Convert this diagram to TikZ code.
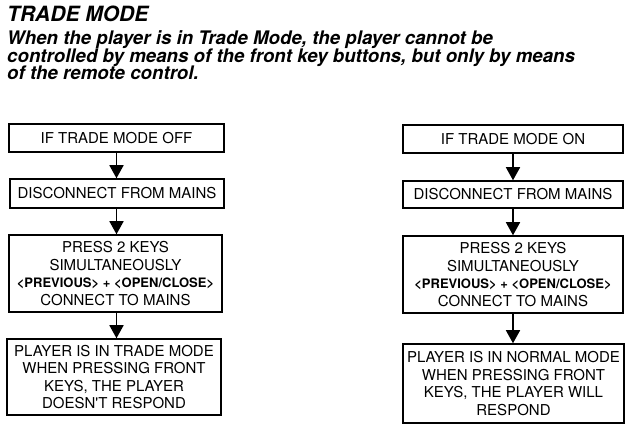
\documentclass[tikz,border=0pt]{standalone}
\usepackage{fontspec}
\setmainfont{TeX Gyre Heros}
\usetikzlibrary{arrows.meta}

\tikzset{
  stepbox/.style={draw, line width=1.5pt, inner sep=1pt, align=center,
    font=\fontsize{15}{17.5}\selectfont},
  flow/.style={line width=1.5pt, -{Triangle[width=14pt,length=13pt]}},
  heading/.style={anchor=base west, inner sep=0pt,
    font=\fontsize{21}{24}\selectfont\bfseries\itshape},
  intro/.style={anchor=base west, inner sep=0pt,
    font=\fontsize{18.7}{17.5}\selectfont\bfseries\itshape},
}
\newcommand\keycombo{{\fontsize{13}{17.5}\selectfont\bfseries <PREVIOUS> + <OPEN/CLOSE>}}

\begin{document}
\begin{tikzpicture}[x=1pt, y=-1pt]
  \useasboundingbox (0,0) rectangle (625,433);

  % heading and explanation
  \node[heading] (title) at (7,21.7) {TRADE MODE};
  \node[intro] (introA) at (7,45) {When the player is in Trade Mode, the player cannot be};
  \node[intro] (introB) at (7,62.5) {controlled by means of the front key buttons, but only by means};
  \node[intro] (introC) at (7,80) {of the remote control.};

  % switching trade mode on
  \node[stepbox, minimum width=215pt, minimum height=28pt] (l1) at (116.5,138) {IF TRADE MODE OFF};
  \node[stepbox, minimum width=214pt, minimum height=29pt] (l2) at (117,193.5) {DISCONNECT FROM MAINS};
  \node[stepbox, minimum width=213pt, minimum height=77pt] (l3) at (115.5,273.5)
    {PRESS 2 KEYS\\ SIMULTANEOUSLY\\ \keycombo\\ CONNECT TO MAINS};
  \node[stepbox, minimum width=214pt, minimum height=76pt] (l4) at (114,377)
    {PLAYER IS IN TRADE MODE\\ WHEN PRESSING FRONT\\ KEYS, THE PLAYER\\ DOESN\textquotesingle T RESPOND};

  % switching trade mode off
  \node[stepbox, minimum width=220pt, minimum height=28pt] (r1) at (513,139) {IF TRADE MODE ON};
  \node[stepbox, minimum width=220pt, minimum height=27pt] (r2) at (513,194.5) {DISCONNECT FROM MAINS};
  \node[stepbox, minimum width=220pt, minimum height=77pt] (r3) at (513,274.5)
    {PRESS 2 KEYS\\ SIMULTANEOUSLY\\ \keycombo\\ CONNECT TO MAINS};
  \node[stepbox, minimum width=221pt, minimum height=79pt] (r4) at (513.5,383.5)
    {PLAYER IS IN NORMAL MODE\\ WHEN PRESSING FRONT\\ KEYS, THE PLAYER WILL\\ RESPOND};

  % connectors
  \draw[flow] (l1.south) -- (l1.south |- l2.north);
  \draw[flow] (l2.south -| l1.south) -- (l1.south |- l3.north);
  \draw[flow] (l3.south -| l1.south) -- (l1.south |- l4.north);
  \draw[flow] (r1.south) -- (r1.south |- r2.north);
  \draw[flow] (r2.south -| r1.south) -- (r1.south |- r3.north);
  \draw[flow] (r3.south -| r1.south) -- (r1.south |- r4.north);
\end{tikzpicture}
\end{document}
